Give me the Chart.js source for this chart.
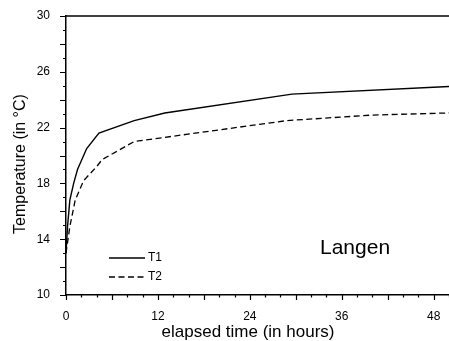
<!DOCTYPE html>
<html>
<head>
<meta charset="utf-8">
<script src="https://cdn.jsdelivr.net/npm/chart.js@4"></script>
<style>
  html, body { margin: 0; padding: 0; background: #fff; }
  #wrap { width: 449px; height: 341px; }
</style>
</head>
<body>
<div id="wrap"><canvas id="tempChart" width="449" height="341"></canvas></div>
<script>
// readings taken off the reference plot
const t1Hours = [0, 0.2, 0.5, 1, 1.5, 2.7, 4.3, 8.9, 12.9, 29.5, 50];
const t1Temps = [13.0, 14.9, 16.8, 18.0, 19.0, 20.5, 21.6, 22.5, 23.05, 24.4, 24.95];
const t2Hours = [0, 0.5, 1.2, 2.3, 4, 4.7, 8.9, 28.8, 40, 50];
const t2Temps = [13.0, 14.9, 16.8, 18.2, 19.2, 19.7, 21.0, 22.5, 22.9, 23.05];
const xTickLabels = [0, 12, 24, 36, 48];
const yTickLabels = [10, 14, 18, 22, 26, 30];
const seriesNames = ['T1', 'T2'];
const stationName = 'Langen';
const xTitle = 'elapsed time (in hours)';
const yTitle = 'Temperature (in °C)';

const font = '"Liberation Sans", Arial, sans-serif';
const toPoints = (xs, ys) => xs.map((x, i) => ({ x: x, y: ys[i] }));

// extra ticks, top border, axis titles, inline legend and station label
const decorations = {
    id: 'decorations',
    afterDraw(chart) {
        const c = chart.ctx;
        const area = chart.chartArea;
        const xs = chart.scales.x;
        const ys = chart.scales.y;
        c.save();
        c.strokeStyle = '#000';
        c.lineWidth = 1.2;
        c.beginPath();
        for (let v = 10; v <= 30; v++) {
            const py = Math.round(ys.getPixelForValue(v)) + 0.5;
            const len = v % 2 === 0 ? 6 : 3;
            c.moveTo(area.left - len, py);
            c.lineTo(area.left, py);
        }
        for (let h = 0; h <= 50; h += 2) {
            const px = Math.round(xs.getPixelForValue(h)) + 0.5;
            const len = h % 6 === 0 ? 5 : 2.5;
            c.moveTo(px, area.bottom);
            c.lineTo(px, area.bottom + len);
        }
        c.stroke();

        // top frame line
        c.lineWidth = 1.5;
        c.beginPath();
        c.moveTo(area.left, area.top);
        c.lineTo(area.right, area.top);
        c.stroke();

        // axis titles
        c.fillStyle = '#000';
        c.textAlign = 'center';
        c.textBaseline = 'middle';
        c.font = '17px ' + font;
        c.fillText(xTitle, 248, 332);
        c.save();
        c.translate(21, 164);
        c.rotate(-Math.PI / 2);
        c.font = '16px ' + font;
        c.fillText(yTitle, 0, 0);
        c.restore();

        // legend
        const lx = area.left + 43;
        const ly1 = area.top + 242;
        const ly2 = area.top + 261;
        c.lineWidth = 1.3;
        c.beginPath();
        c.moveTo(lx, ly1);
        c.lineTo(lx + 36, ly1);
        c.stroke();
        c.setLineDash([6, 3.5]);
        c.beginPath();
        c.moveTo(lx, ly2);
        c.lineTo(lx + 36, ly2);
        c.stroke();
        c.setLineDash([]);
        c.font = '12px ' + font;
        c.textAlign = 'left';
        c.fillText(seriesNames[0], lx + 39, ly1);
        c.fillText(seriesNames[1], lx + 39, ly2);

        c.font = '21px ' + font;
        c.fillText(stationName, area.left + 254, area.top + 232);
        c.restore();
    }
};

new Chart(document.getElementById('tempChart'), {
    type: 'line',
    data: {
        datasets: [{
            label: seriesNames[0],
            data: toPoints(t1Hours, t1Temps),
            borderColor: '#000',
            borderWidth: 1.4,
            pointRadius: 0,
            tension: 0
        }, {
            label: seriesNames[1],
            data: toPoints(t2Hours, t2Temps),
            borderColor: '#000',
            borderWidth: 1.3,
            borderDash: [6, 3.5],
            pointRadius: 0,
            tension: 0
        }]
    },
    options: {
        responsive: false,
        animation: false,
        layout: { padding: { top: 16, right: 0, left: 0, bottom: 0 } },
        plugins: {
            legend: { display: false },
            tooltip: { enabled: false }
        },
        scales: {
            x: {
                type: 'linear',
                min: 0,
                max: 50,
                afterFit: (s) => { s.height = 46; s.paddingRight = 0; s.paddingLeft = 0; },
                border: { display: true, color: '#000', width: 1.5 },
                grid: { display: false },
                ticks: {
                    stepSize: 2,
                    padding: 6,
                    maxRotation: 0,
                    autoSkip: false,
                    color: '#000',
                    font: { family: font, size: 12 },
                    callback: (v) => xTickLabels.includes(v) ? String(v) : ''
                }
            },
            y: {
                min: 10,
                max: 30,
                afterFit: (s) => { s.width = 66; s.paddingTop = 0; s.paddingBottom = 0; },
                border: { display: true, color: '#000', width: 1.5 },
                grid: { display: false },
                ticks: {
                    stepSize: 1,
                    padding: 8,
                    autoSkip: false,
                    color: '#000',
                    font: { family: font, size: 12 },
                    callback: (v) => yTickLabels.includes(v) ? String(v) : ''
                }
            }
        }
    },
    plugins: [decorations]
});
</script>
</body>
</html>
